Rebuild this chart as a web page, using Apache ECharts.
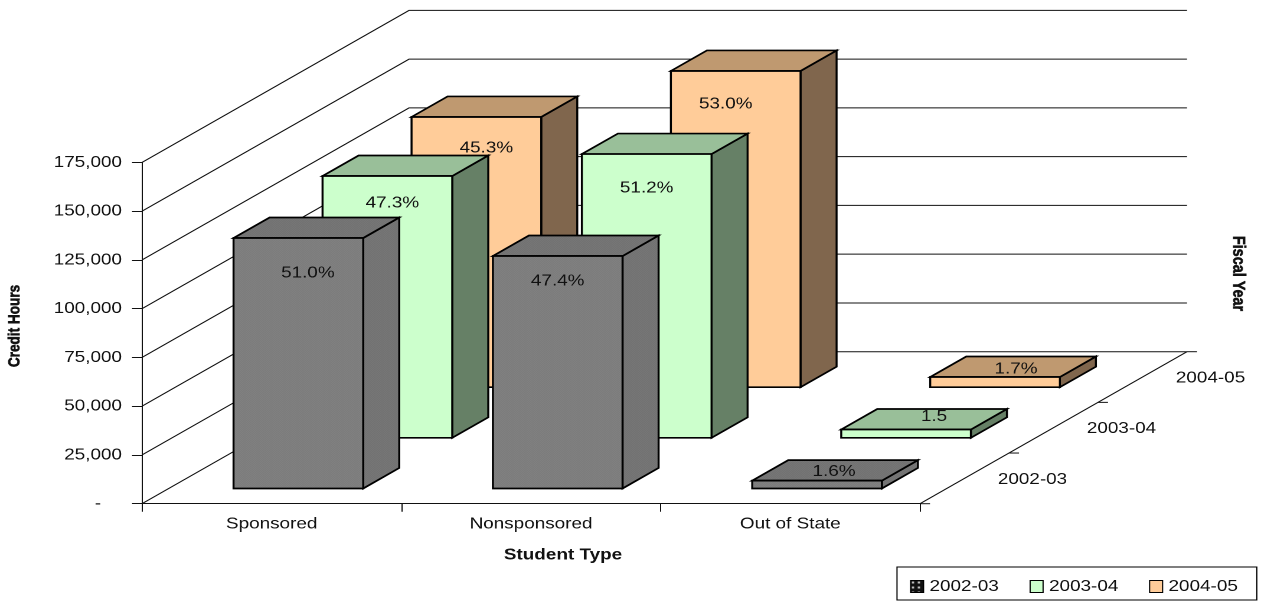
<!DOCTYPE html>
<html>
<head>
<meta charset="utf-8">
<title>Credit Hours by Student Type</title>
<script src="https://cdn.jsdelivr.net/npm/echarts@6/dist/echarts.min.js"></script>
<style>
  html, body { margin: 0; padding: 0; background: #fff; overflow: hidden; width: 1261px; height: 601px; }
  #chart { width: 1068px; height: 601px; transform-origin: 0 0; }
</style>
</head>
<body>
<div id="chart"></div>
<script>
// Data
const studentTypes = ['Sponsored', 'Nonsponsored', 'Out of State'];
const fiscalYears = ['2002-03', '2003-04', '2004-05'];
const hours200203 = [128440, 119200, 4020];
const hours200304 = [134240, 145500, 4260];
const hours200405 = [138540, 162130, 5200];
const shares200203 = ['51.0%', '47.4%', '1.6%'];
const shares200304 = ['47.3%', '51.2%', '1.5'];
const shares200405 = ['45.3%', '53.0%', '1.7%'];
const axisTicks = [0, 25000, 50000, 75000, 100000, 125000, 150000, 175000];

// The page is laid out 1068 wide and stretched to the window, which gives the wide lettering.
const SX = 1261 / 1068;
const px = v => v / SX;

// Oblique projection of the depth axis, per full depth of the floor.
const DEPTH_X = px(267);
const DEPTH_Y = 152;
const ROW_LEAD = 0.1;       // floor gap in front of each row
const ROW_STEP = 1 / 3;
const BAR_DEPTH = 0.135;
const BAR_WIDTH = 0.5;      // share of the category band
const FONT = '"Liberation Sans", Arial, sans-serif';
const INK = '#111';

// Label anchors relative to the middle of a bar's top front edge, per row and category.
const labelShift = [
  [[9.5, 35], [0, 25], [17, -9]],
  [[5, 27], [0, 34], [28, -13]],
  [[10, 31], [-10, 33], [21, -8]]
];

function speckle(a, b) {
  const c = document.createElement('canvas');
  c.width = c.height = 2;
  const g = c.getContext('2d');
  g.fillStyle = a; g.fillRect(0, 0, 2, 2);
  g.fillStyle = b; g.fillRect(0, 0, 1, 1); g.fillRect(1, 1, 1, 1);
  return { image: c, repeat: 'repeat' };
}

function swatchDots() {
  const c = document.createElement('canvas');
  c.width = 5; c.height = 5;
  const g = c.getContext('2d');
  g.fillStyle = '#111'; g.fillRect(0, 0, 5, 5);
  g.fillStyle = '#bbb'; g.fillRect(1, 1, 2, 2);
  return { image: c, repeat: 'repeat' };
}

const rowStyles = [
  { front: speckle('#868686', '#767676'), top: speckle('#7c7c7c', '#6c6c6c'), side: speckle('#7c7c7c', '#6c6c6c') },
  { front: '#ccffcc', top: '#99bf99', side: '#668066' },
  { front: '#ffcc99', top: '#bf9970', side: '#80664d' }
];

function renderBar(row, shares) {
  return function (params, api) {
    const cat = api.value(0);
    const base = api.coord([cat, 0]);
    const head = api.coord([cat, api.value(1)]);
    const band = api.size([1, 0])[0];
    const f = ROW_LEAD + row * ROW_STEP;
    const ox = f * DEPTH_X, oy = -f * DEPTH_Y;
    const dx = BAR_DEPTH * DEPTH_X, dy = -BAR_DEPTH * DEPTH_Y;
    const l = base[0] - band * BAR_WIDTH / 2 + ox;
    const r = base[0] + band * BAR_WIDTH / 2 + ox;
    const b = base[1] + oy;
    const t = head[1] + oy;
    const s = rowStyles[row];
    const edge = { stroke: '#000', lineWidth: 1.7, lineJoin: 'miter' };
    const shift = labelShift[row][cat];
    const poly = (points, fill) => ({
      type: 'polygon', shape: { points }, style: Object.assign({ fill }, edge)
    });
    return {
      type: 'group',
      children: [
        poly([[r, b], [r + dx, b + dy], [r + dx, t + dy], [r, t]], s.side),
        poly([[l, t], [r, t], [r + dx, t + dy], [l + dx, t + dy]], s.top),
        poly([[l, t], [r, t], [r, b], [l, b]], s.front),
        {
          type: 'text',
          style: {
            text: shares[cat],
            x: (l + r) / 2 + px(shift[0]),
            y: t + shift[1],
            align: 'center', verticalAlign: 'middle',
            textAlign: 'center', textVerticalAlign: 'middle',
            fill: INK, font: '16px ' + FONT
          }
        }
      ]
    };
  };
}

// Side wall and back wall rules at every value tick.
function renderWallRule(params, api) {
  const v = api.value(1);
  const left = api.coord([0, v]);
  const band = api.size([1, 0])[0];
  const x0 = left[0] - band / 2;
  const backW = band * studentTypes.length;
  return {
    type: 'polyline',
    shape: { points: [[x0, left[1]], [x0 + DEPTH_X, left[1] - DEPTH_Y], [x0 + DEPTH_X + backW, left[1] - DEPTH_Y]] },
    style: { fill: 'none', stroke: INK, lineWidth: 1 }
  };
}

// Depth axis along the right edge of the floor, with a tick per row boundary and a year per row.
function renderDepthAxis(params, api) {
  const idx = api.value(2);
  const corner = api.coord([studentTypes.length - 1, 0]);
  const x0 = corner[0] + api.size([1, 0])[0] / 2;
  const y0 = corner[1];
  const children = [];
  const tick = f => ({
    type: 'line',
    shape: { x1: x0 + f * DEPTH_X, y1: y0 - f * DEPTH_Y, x2: x0 + f * DEPTH_X + px(10), y2: y0 - f * DEPTH_Y },
    style: { stroke: INK, lineWidth: 1 }
  });
  children.push(tick(idx * ROW_STEP));
  if (idx === fiscalYears.length - 1) {
    children.push(tick(1));
    children.push({
      type: 'line',
      shape: { x1: x0, y1: y0, x2: x0 + DEPTH_X, y2: y0 - DEPTH_Y },
      style: { stroke: INK, lineWidth: 1 }
    });
  }
  const mid = (idx + 0.5) * ROW_STEP;
  children.push({
    type: 'text',
    style: {
      text: fiscalYears[idx],
      x: x0 + mid * DEPTH_X + px(68),
      y: y0 - mid * DEPTH_Y + 1,
      align: 'center', verticalAlign: 'middle',
      textAlign: 'center', textVerticalAlign: 'middle',
      fill: INK, font: '16px ' + FONT
    }
  });
  return { type: 'group', children };
}

const barSeries = (name, row, values, shares) => ({
  name,
  type: 'custom',
  coordinateSystem: 'cartesian2d',
  renderItem: renderBar(row, shares),
  encode: { x: 0, y: 1 },
  itemStyle: { color: typeof rowStyles[row].front === 'string' ? rowStyles[row].front : '#808080' },
  data: values.map((v, i) => [i, v]),
  silent: true
});

const dom = document.getElementById('chart');
dom.style.transform = 'scaleX(' + SX + ')';
const chart = echarts.init(dom, null, { devicePixelRatio: 2 });

const axisText = { color: INK, fontFamily: FONT, fontSize: 16 };
const titleText = (text, size, heavy) => ({
  text, fill: INK, font: 'bold ' + size + 'px ' + FONT,
  stroke: INK, lineWidth: heavy,
  textAlign: 'center', textVerticalAlign: 'middle', align: 'center', verticalAlign: 'middle'
});

chart.setOption({
  animation: false,
  backgroundColor: '#fff',
  grid: { left: px(142), top: 162.4, width: px(778), height: 341.3, containLabel: false },
  xAxis: {
    type: 'category',
    data: studentTypes,
    axisLine: { lineStyle: { color: INK, width: 1 } },
    axisTick: { show: true, length: 8, alignWithLabel: false, lineStyle: { color: INK, width: 1 } },
    axisLabel: Object.assign({ margin: 12.5, interval: 0 }, axisText),
    splitLine: { show: false }
  },
  yAxis: {
    type: 'value',
    min: 0,
    max: axisTicks[axisTicks.length - 1],
    interval: axisTicks[1],
    axisLine: { show: true, lineStyle: { color: INK, width: 1 } },
    axisTick: { show: true, length: px(10), lineStyle: { color: INK, width: 1 } },
    axisLabel: Object.assign({
      margin: px(20),
      formatter: v => v === 0 ? '-    ' : v.toLocaleString('en-US')
    }, axisText),
    splitLine: { show: false }
  },
  legend: {
    left: px(897),
    top: 567,
    orient: 'horizontal',
    padding: [11.5, px(19), 5.5, px(13)],
    borderColor: '#000',
    borderWidth: 1,
    backgroundColor: '#fff',
    itemWidth: 11,
    itemHeight: 12,
    itemGap: 26,
    selectedMode: false,
    textStyle: axisText,
    data: [
      { name: fiscalYears[0], icon: 'rect', itemStyle: { color: swatchDots(), borderColor: '#000', borderWidth: 1 } },
      { name: fiscalYears[1], icon: 'rect', itemStyle: { color: '#ccffcc', borderColor: '#000', borderWidth: 1 } },
      { name: fiscalYears[2], icon: 'rect', itemStyle: { color: '#ffcc99', borderColor: '#000', borderWidth: 1 } }
    ]
  },
  graphic: [
    { type: 'text', x: px(563), y: 555, style: titleText('Student Type', 16, 0) },
    { type: 'text', x: px(15), y: 326, rotation: Math.PI / 2, style: titleText('Credit Hours', 13.6, 0.5) },
    { type: 'text', x: px(1238), y: 273.5, rotation: -Math.PI / 2, style: titleText('Fiscal Year', 14.4, 0.5) }
  ],
  series: [
    {
      type: 'custom', name: 'walls', renderItem: renderWallRule, encode: { x: 0, y: 1 },
      data: axisTicks.map(v => [0, v]), silent: true
    },
    {
      type: 'custom', name: 'depth', renderItem: renderDepthAxis, encode: { x: 0, y: 1 },
      data: fiscalYears.map((y, i) => [studentTypes.length - 1, 0, i]), silent: true
    },
    barSeries(fiscalYears[2], 2, hours200405, shares200405),
    barSeries(fiscalYears[1], 1, hours200304, shares200304),
    barSeries(fiscalYears[0], 0, hours200203, shares200203)
  ]
});
</script>
</body>
</html>
